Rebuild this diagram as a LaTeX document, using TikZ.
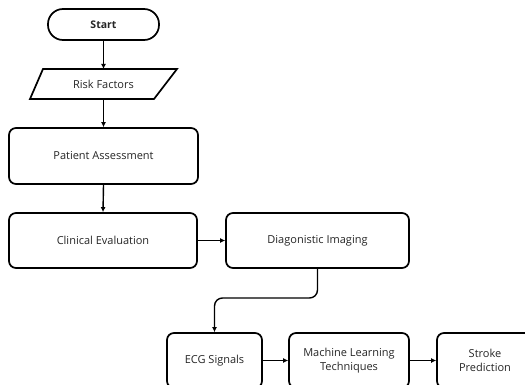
\documentclass[tikz,border=0pt]{standalone}
\usepackage{fontspec}
\setmainfont{Open Sans}
\usetikzlibrary{arrows.meta}
\begin{document}
\begin{tikzpicture}[x=1pt,y=-1pt,
  box/.style={draw=black, line width=1.7pt, rounded corners=7pt, align=center, inner sep=0pt, text=black!85, font=\fontsize{11}{14.5}\selectfont},
  arr/.style={line width=1.4pt, -{Latex[length=5pt,width=5pt]}},
  lbl/.style={text=black!85, font=\fontsize{11}{14.5}\selectfont, inner sep=0pt}]
\clip (0,0) rectangle (525,385);
\fill[white] (0,0) rectangle (525,385);
% Start
\node[box, rounded corners=15pt, minimum width=111pt, minimum height=31pt, font=\fontsize{10.5}{13}\selectfont\bfseries] (start) at (103.5,24.5) {Start};
% Risk factors
\node[lbl] (risk) at (103.5,84) {Risk Factors};
\coordinate (risktop) at (103.5,69);
\coordinate (riskbot) at (103.5,99);
\draw[line width=1.7pt, line join=miter] (43,69) -- (177,69) -- (154,99) -- (30,99) -- cycle;
% boxes
\node[box, minimum width=189pt, minimum height=56pt] (patient) at (103.5,156) {Patient Assessment};
\node[box, minimum width=188pt, minimum height=55pt] (clinical) at (103,240.5) {Clinical Evaluation};
\node[box, minimum width=183pt, minimum height=55pt] (diag) at (317.5,240.5) {Diagonistic Imaging};
\node[box, minimum width=95pt, minimum height=55pt] (ecg) at (214.5,360.5) {ECG Signals};
\node[box, minimum width=120pt, minimum height=55pt] (ml) at (349,360.5) {Machine Learning\\Techniques};
\node[box, minimum width=96pt, minimum height=55pt] (stroke) at (485,360.5) {Stroke\\Prediction};
% connectors
\draw[arr] (start.south) -- (risktop);
\draw[arr] (riskbot) -- (patient.north);
\draw[arr] (patient.south) -- (clinical.north);
\draw[arr] (clinical.east) -- (diag.west);
\draw[arr, rounded corners=8pt] (diag.south) |- (ecg.north |- 0,298) -- (ecg.north);
\draw[arr] (ecg.east) -- (ml.west);
\draw[arr] (ml.east) -- (stroke.west);
\end{tikzpicture}
\end{document}
